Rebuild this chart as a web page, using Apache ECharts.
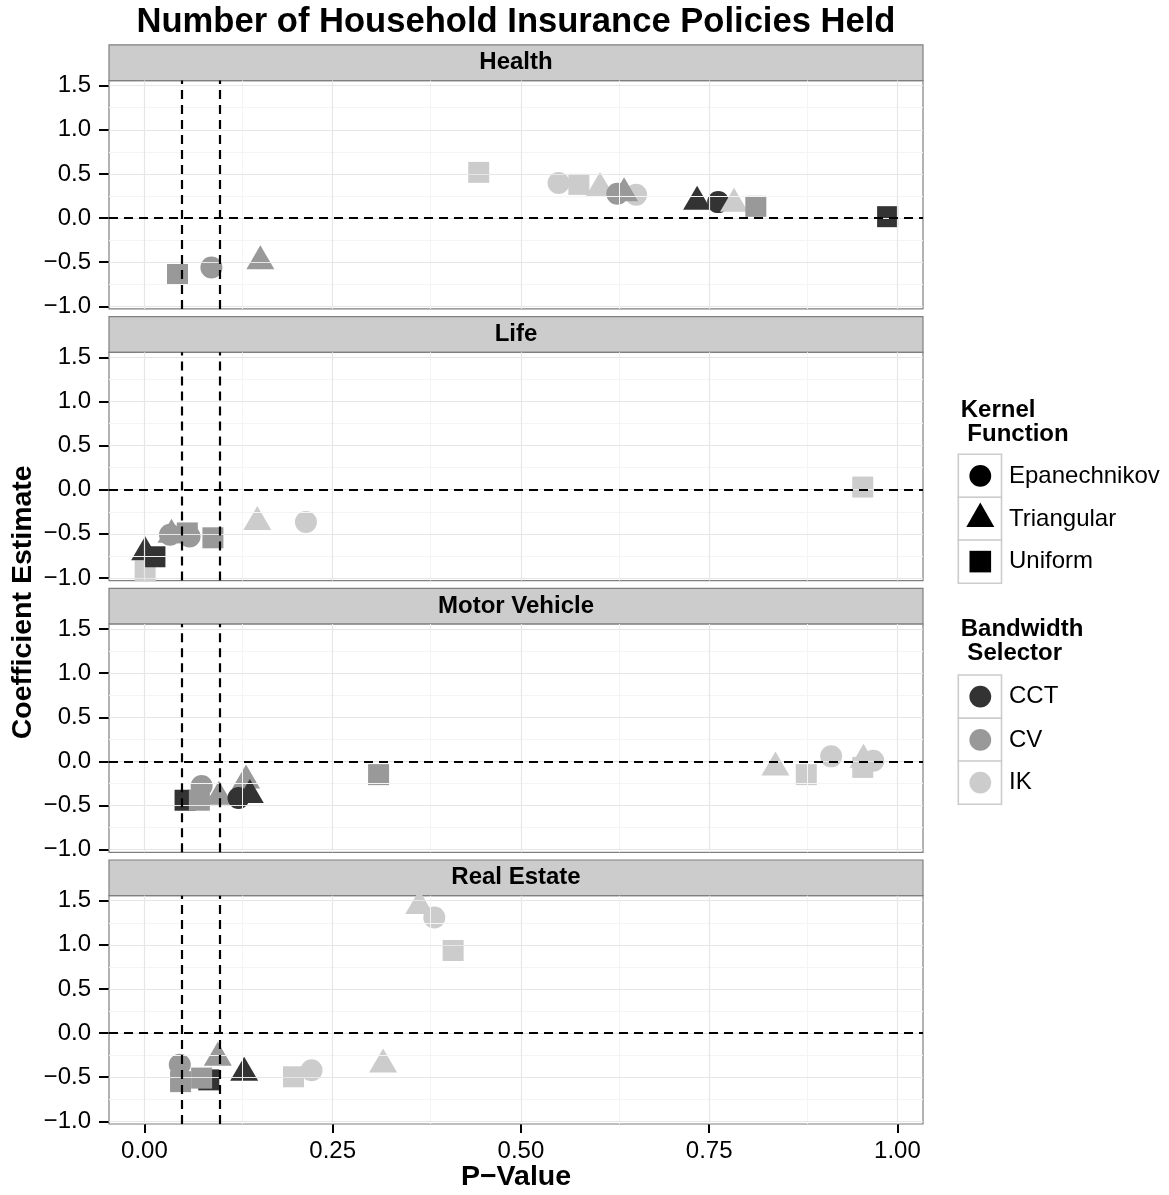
<!DOCTYPE html>
<html>
<head>
<meta charset="utf-8">
<script src="https://cdn.jsdelivr.net/npm/echarts@6/dist/echarts.min.js"></script>
<style>
  html, body { margin: 0; padding: 0; background: #ffffff; }
  #chart { width: 1169px; height: 1195px; }
</style>
</head>
<body>
<div id="chart"></div>
<script>
// ---- data ---------------------------------------------------------------
const chartTitle = 'Number of Household Insurance Policies Held';
const xTitle = 'P\u2212Value';
const yTitle = 'Coefficient Estimate';
const facets = ['Health', 'Life', 'Motor Vehicle', 'Real Estate'];

const kernels = ['Epanechnikov', 'Triangular', 'Uniform'];
const selectors = ['CCT', 'CV', 'IK'];
const kernelTitle = 'Kernel\n Function';
const selectorTitle = 'Bandwidth\n Selector';

const xTicks = [0, 0.25, 0.5, 0.75, 1];
const xMinor = [0.125, 0.375, 0.625, 0.875];
const yTicks = [-1, -0.5, 0, 0.5, 1, 1.5];
const yMinor = [-0.75, -0.25, 0.25, 0.75, 1.25];
const pCutoffs = [0.05, 0.1];
const coefReference = [0];

// Health
const healthP      = [0.444, 0.550, 0.577, 0.605, 0.653, 0.628, 0.637, 0.734, 0.762, 0.783, 0.812, 0.987, 0.044, 0.089, 0.154];
const healthCoef   = [0.517, 0.396, 0.381, 0.340, 0.264, 0.275, 0.280, 0.185, 0.180, 0.162, 0.132, 0.015, -0.640, -0.560, -0.490];
const healthKernel = ['Uniform', 'Epanechnikov', 'Uniform', 'Triangular', 'Epanechnikov', 'Epanechnikov', 'Triangular', 'Triangular', 'Epanechnikov', 'Triangular', 'Uniform', 'Uniform', 'Uniform', 'Epanechnikov', 'Triangular'];
const healthSel    = ['IK', 'IK', 'IK', 'IK', 'IK', 'CV', 'CV', 'CCT', 'CCT', 'IK', 'CV', 'CCT', 'CV', 'CV', 'CV'];

// Life
const lifeP      = [0.001, 0.001, 0.014, 0.057, 0.036, 0.034, 0.060, 0.091, 0.150, 0.2145, 0.954];
const lifeCoef   = [-0.920, -0.710, -0.760, -0.490, -0.510, -0.510, -0.530, -0.545, -0.365, -0.367, 0.030];
const lifeKernel = ['Uniform', 'Triangular', 'Uniform', 'Uniform', 'Triangular', 'Epanechnikov', 'Epanechnikov', 'Uniform', 'Triangular', 'Epanechnikov', 'Uniform'];
const lifeSel    = ['IK', 'CCT', 'CCT', 'CV', 'CV', 'CV', 'CV', 'CV', 'IK', 'IK', 'IK'];

// Motor Vehicle
const motorP      = [0.054, 0.073, 0.099, 0.076, 0.135, 0.125, 0.140, 0.311, 0.838, 0.879, 0.912, 0.954, 0.955, 0.968];
const motorCoef   = [-0.440, -0.440, -0.400, -0.280, -0.215, -0.415, -0.380, -0.150, -0.070, -0.150, 0.057, -0.068, 0.020, 0.008];
const motorKernel = ['Uniform', 'Uniform', 'Triangular', 'Epanechnikov', 'Triangular', 'Epanechnikov', 'Triangular', 'Uniform', 'Triangular', 'Uniform', 'Epanechnikov', 'Uniform', 'Triangular', 'Epanechnikov'];
const motorSel    = ['CCT', 'CV', 'CV', 'CV', 'CV', 'CCT', 'CCT', 'CV', 'IK', 'IK', 'IK', 'IK', 'IK', 'IK'];

// Real Estate
const estateP      = [0.365, 0.385, 0.410, 0.317, 0.198, 0.222, 0.047, 0.0975, 0.0855, 0.048, 0.076, 0.1325];
const estateCoef   = [1.440, 1.310, 0.936, -0.356, -0.495, -0.420, -0.360, -0.280, -0.530, -0.550, -0.510, -0.450];
const estateKernel = ['Triangular', 'Epanechnikov', 'Uniform', 'Triangular', 'Uniform', 'Epanechnikov', 'Epanechnikov', 'Triangular', 'Uniform', 'Uniform', 'Uniform', 'Triangular'];
const estateSel    = ['IK', 'IK', 'IK', 'IK', 'IK', 'IK', 'CV', 'CV', 'CCT', 'CV', 'CV', 'CCT'];

const facetData = [
  [healthP, healthCoef, healthKernel, healthSel],
  [lifeP, lifeCoef, lifeKernel, lifeSel],
  [motorP, motorCoef, motorKernel, motorSel],
  [estateP, estateCoef, estateKernel, estateSel]
];

// ---- styling & layout ---------------------------------------------------
const FONT = '"Liberation Sans", Arial, Helvetica, sans-serif';
const selectorColor = { CCT: '#333333', CV: '#999999', IK: '#CCCCCC' };
const kernelSymbol = {
  Epanechnikov: { symbol: 'circle', size: 22, offset: [0, 0] },
  Triangular:   { symbol: 'triangle', size: [28, 24], offset: [0, -4] },
  Uniform:      { symbol: 'rect', size: 21, offset: [0, 0] }
};

const X_MIN = -0.047, X_MAX = 1.034;
const Y_MIN = -1.03, Y_MAX = 1.557;
const PLOT_LEFT = 109, PLOT_W = 814, PLOT_H = 228.3, STRIP_H = 35.7;
const panelTops = [80.6, 352.3, 624.0, 895.7];
const PANEL_BORDER = '#7F7F7F';

const fmtY = v => (Math.abs(v) < 1e-9 ? 0 : v).toFixed(1).replace('-', '\u2212');
const fmtX = v => v.toFixed(2);

function facetPoints(f) {
  const [p, coef, kern, sel] = facetData[f];
  return p.map((x, i) => {
    const k = kernelSymbol[kern[i]];
    return {
      name: kern[i] + ' / ' + sel[i],
      value: [x, coef[i]],
      symbol: k.symbol,
      symbolSize: k.size,
      symbolOffset: k.offset,
      itemStyle: { color: selectorColor[sel[i]], opacity: 1 }
    };
  });
}

const grids = [], xAxes = [], yAxes = [], series = [], graphics = [];

facets.forEach((name, f) => {
  const top = panelTops[f];
  const bottomPanel = f === facets.length - 1;
  grids.push({ left: PLOT_LEFT, top: top, width: PLOT_W, height: PLOT_H, show: false });

  xAxes.push({
    gridIndex: f, type: 'value', min: X_MIN, max: X_MAX, position: 'bottom',
    axisLine: { show: false, onZero: false },
    splitLine: { show: false },
    axisTick: { show: bottomPanel, customValues: xTicks, length: 9, lineStyle: { color: '#000', width: 2 } },
    axisLabel: { show: bottomPanel, customValues: xTicks, formatter: fmtX, margin: 15,
                 fontSize: 24, fontFamily: FONT, color: '#000' }
  });
  yAxes.push({
    gridIndex: f, type: 'value', min: Y_MIN, max: Y_MAX, position: 'left',
    axisLine: { show: false, onZero: false },
    splitLine: { show: false },
    axisTick: { show: true, customValues: yTicks, length: 10, lineStyle: { color: '#000', width: 2 } },
    axisLabel: { show: true, customValues: yTicks, formatter: fmtY, margin: 18,
                 fontSize: 24, fontFamily: FONT, color: '#000' }
  });

  // panel grid lines
  const gridLines = []
    .concat(xMinor.map(v => ({ xAxis: v, lineStyle: { color: '#F4F4F4', width: 1, type: 'solid' } })))
    .concat(yMinor.map(v => ({ yAxis: v, lineStyle: { color: '#F4F4F4', width: 1, type: 'solid' } })))
    .concat(xTicks.map(v => ({ xAxis: v, lineStyle: { color: '#E6E6E6', width: 1.2, type: 'solid' } })))
    .concat(yTicks.map(v => ({ yAxis: v, lineStyle: { color: '#E6E6E6', width: 1.2, type: 'solid' } })));
  series.push({
    type: 'scatter', xAxisIndex: f, yAxisIndex: f, data: [], z: 1, silent: true,
    markLine: { silent: true, symbol: 'none', animation: false, label: { show: false },
                emphasis: { disabled: true }, data: gridLines }
  });

  // estimates
  series.push({
    type: 'scatter', name: name, xAxisIndex: f, yAxisIndex: f, z: 2,
    itemStyle: { opacity: 1 },
    emphasis: { disabled: true },
    data: facetPoints(f)
  });

  // significance cut-offs and zero line
  const refLines = pCutoffs.map(v => ({ xAxis: v })).concat(coefReference.map(v => ({ yAxis: v })));
  series.push({
    type: 'scatter', xAxisIndex: f, yAxisIndex: f, data: [], z: 3, silent: true,
    markLine: { silent: true, symbol: 'none', animation: false, label: { show: false },
                emphasis: { disabled: true },
                lineStyle: { color: '#000', width: 2.2, type: [9, 6] },
                data: refLines }
  });

  // strip
  graphics.push({
    type: 'rect', z: 1,
    shape: { x: PLOT_LEFT, y: top - STRIP_H, width: PLOT_W, height: STRIP_H },
    style: { fill: '#CCCCCC', stroke: PANEL_BORDER, lineWidth: 1.2 }
  });
  graphics.push({
    type: 'text', z: 2, x: PLOT_LEFT + PLOT_W / 2, y: top - STRIP_H / 2,
    style: { text: name, font: 'bold 24px ' + FONT, fill: '#000',
             align: 'center', verticalAlign: 'middle', textAlign: 'center', textVerticalAlign: 'middle' }
  });
  // panel border
  graphics.push({
    type: 'rect', z: 1,
    shape: { x: PLOT_LEFT, y: top, width: PLOT_W, height: PLOT_H },
    style: { fill: 'none', stroke: PANEL_BORDER, lineWidth: 1.2 }
  });
});

// titles
const plotMidX = PLOT_LEFT + PLOT_W / 2;
graphics.push({
  type: 'text', x: plotMidX, y: 22.6,
  style: { text: chartTitle, font: 'bold 34.6px ' + FONT, fill: '#000',
           align: 'center', verticalAlign: 'middle', textAlign: 'center', textVerticalAlign: 'middle' }
});
graphics.push({
  type: 'text', x: plotMidX, y: 1177,
  style: { text: xTitle, font: 'bold 28.5px ' + FONT, fill: '#000',
           align: 'center', verticalAlign: 'middle', textAlign: 'center', textVerticalAlign: 'middle' }
});
graphics.push({
  type: 'text', x: 23, y: (panelTops[0] + panelTops[3] + PLOT_H) / 2, rotation: Math.PI / 2,
  style: { text: yTitle, font: 'bold 28.5px ' + FONT, fill: '#000',
           align: 'center', verticalAlign: 'middle', textAlign: 'center', textVerticalAlign: 'middle' }
});

// legends
const LEG_X = 958.3, KEY = 43.2, LABEL_X = 1009;
function legendTitle(text, y) {
  graphics.push({
    type: 'text', x: 960.7, y: y,
    style: { text: text, font: 'bold 24px ' + FONT, fill: '#000', lineHeight: 24,
             align: 'left', verticalAlign: 'top', textAlign: 'left', textVerticalAlign: 'top' }
  });
}
function legendKey(y, label) {
  graphics.push({
    type: 'rect', shape: { x: LEG_X, y: y, width: KEY, height: KEY },
    style: { fill: '#ffffff', stroke: '#CCCCCC', lineWidth: 1.6 }
  });
  graphics.push({
    type: 'text', x: LABEL_X, y: y + KEY / 2,
    style: { text: label, font: '24px ' + FONT, fill: '#000',
             align: 'left', verticalAlign: 'middle', textAlign: 'left', textVerticalAlign: 'middle' }
  });
}

legendTitle(kernelTitle, 398.7);
const kernelKeyTops = [454.3, 497.3, 540.0];
kernels.forEach((k, i) => {
  const y = kernelKeyTops[i];
  legendKey(y, k);
  const cx = LEG_X + KEY / 2 + 0.4, cy = y + KEY / 2;
  const sym = kernelSymbol[k].symbol;
  if (sym === 'circle') {
    graphics.push({ type: 'circle', shape: { cx: cx, cy: cy, r: 10.9 }, style: { fill: '#000' } });
  } else if (sym === 'triangle') {
    graphics.push({ type: 'polygon',
      shape: { points: [[cx, cy - 16.5], [cx + 14, cy + 8.2], [cx - 14, cy + 8.2]] },
      style: { fill: '#000' } });
  } else {
    graphics.push({ type: 'rect', shape: { x: cx - 10.8, y: cy - 10.8, width: 21.6, height: 21.6 }, style: { fill: '#000' } });
  }
});

legendTitle(selectorTitle, 617.7);
const selectorKeyTops = [675.0, 718.3, 761.0];
selectors.forEach((s, i) => {
  const y = selectorKeyTops[i];
  legendKey(y, s);
  graphics.push({ type: 'circle', shape: { cx: LEG_X + KEY / 2 + 0.4, cy: y + KEY / 2, r: 10.9 },
                  style: { fill: selectorColor[s] } });
});

const chart = echarts.init(document.getElementById('chart'), null, { renderer: 'canvas' });
chart.setOption({
  animation: false,
  backgroundColor: '#ffffff',
  textStyle: { fontFamily: FONT },
  grid: grids,
  xAxis: xAxes,
  yAxis: yAxes,
  series: series,
  graphic: { elements: graphics }
});
</script>
</body>
</html>
